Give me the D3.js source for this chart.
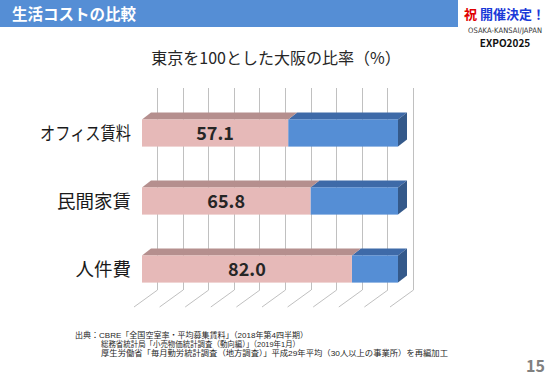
<!DOCTYPE html>
<html>
<meta charset="utf-8">
<style>
  body { margin: 0; background: #fff; }
  svg { width: 550px; height: 381px; display: block; font-family: "Noto Sans CJK JP", "Noto Sans", sans-serif; }
  .grid line { stroke: #c0c0c0; stroke-width: 1; shape-rendering: crispEdges; }
  .floor line { stroke: #c0c0c0; stroke-width: 1; }
</style>
<body>
  <svg></svg>
</body>

<script src="https://cdnjs.cloudflare.com/ajax/libs/d3/7.8.5/d3.min.js"></script>

<script>

var categories = ["オフィス賃料", "民間家賃", "人件費"];
var osaka = [57.1, 65.8, 82.0];
var tokyo = 100;
var ticks = [0, 10, 20, 30, 40, 50, 60, 70, 80, 90, 100];

var svg = d3.select("svg");

// header band
svg.append("rect").attr("x", 0).attr("y", 0).attr("width", 458).attr("height", 27).attr("fill", "#558ed5");
svg.append("text").attr("x", 12).attr("y", 20).attr("fill", "#fff")
  .attr("font-size", 15.5).attr("font-weight", "bold").text("生活コストの比較");

var badge = svg.append("text").attr("x", 464).attr("y", 19).attr("font-size", 13).attr("font-weight", "bold");
badge.append("tspan").attr("fill", "#e00000").text("祝 ");
badge.append("tspan").attr("fill", "#1a3ad8").text("開催決定！");
svg.append("text").attr("x", 505).attr("y", 33).attr("text-anchor", "middle").attr("font-size", 7.5)
  .attr("font-family", "Liberation Sans Narrow, DejaVu Sans Condensed, sans-serif").attr("fill", "#333")
  .attr("textLength", 74).text("OSAKA-KANSAI/JAPAN");
svg.append("text").attr("x", 505).attr("y", 47).attr("text-anchor", "middle").attr("font-size", 10)
  .attr("font-weight", "bold").attr("fill", "#111").text("EXPO2025");

// chart title
svg.append("text").attr("x", 276).attr("y", 64).attr("text-anchor", "middle").attr("font-size", 16)
  .attr("fill", "#262626").text("東京を100とした大阪の比率（%）");

// scales
var x = d3.scaleLinear().domain([0, 100]).range([142, 398]);
var y = d3.scaleBand().domain(categories).range([99, 303]).paddingInner(0.6).paddingOuter(0.3);

// 3d depth vectors
var wallDx = 15, floorDx = -8, depthDy = 17 / 23;
var barDx = 9, barDy = -7;
var wallTop = 88, wallBottom = 290;

var grid = svg.append("g").attr("class", "grid");
grid.selectAll("line").data(ticks).enter().append("line")
  .attr("x1", function(d) { return Math.round(x(d) + wallDx) + 0.5; })
  .attr("x2", function(d) { return Math.round(x(d) + wallDx) + 0.5; })
  .attr("y1", wallTop).attr("y2", wallBottom);

var floor = svg.append("g").attr("class", "floor");
floor.selectAll("line").data(ticks).enter().append("line")
  .attr("x1", function(d) { return x(d) + wallDx + 0.5; })
  .attr("y1", wallBottom)
  .attr("x2", function(d) { return x(d) + floorDx; })
  .attr("y2", wallBottom + (wallDx - floorDx) * depthDy);

// bars
var rows = categories.map(function(c, i) { return {cat: c, v: osaka[i]}; });
var bars = svg.append("g").selectAll("g").data(rows).enter().append("g");

function topFace(x0, x1, y0) {
  return [[x0, y0], [x1, y0], [x1 + barDx, y0 + barDy], [x0 + barDx, y0 + barDy]];
}
var line = d3.line();

// blue (Tokyo remainder)
bars.append("path").attr("fill", "#3e6aa8")
  .attr("d", function(d) { return line(topFace(x(d.v), x(tokyo), y(d.cat))) + "Z"; });
bars.append("path").attr("fill", "#34598a")
  .attr("d", function(d) {
    var x1 = x(tokyo), y0 = y(d.cat), y1 = y0 + y.bandwidth();
    return line([[x1, y0], [x1 + barDx, y0 + barDy], [x1 + barDx, y1 + barDy], [x1, y1]]) + "Z";
  });
bars.append("rect").attr("fill", "#558ed5")
  .attr("x", function(d) { return x(d.v); })
  .attr("y", function(d) { return y(d.cat); })
  .attr("width", function(d) { return x(tokyo) - x(d.v); })
  .attr("height", y.bandwidth());

// pink (Osaka)
bars.append("path").attr("fill", "#b58f8e")
  .attr("d", function(d) { return line(topFace(x(0), x(d.v), y(d.cat))) + "Z"; });
bars.append("rect").attr("fill", "#e6b9b8")
  .attr("x", x(0))
  .attr("y", function(d) { return y(d.cat); })
  .attr("width", function(d) { return x(d.v) - x(0); })
  .attr("height", y.bandwidth());

bars.append("text")
  .attr("x", function(d) { return (x(0) + x(d.v)) / 2; })
  .attr("y", function(d) { return y(d.cat) + y.bandwidth() / 2 + 6.5; })
  .attr("text-anchor", "middle").attr("font-size", 18).attr("font-weight", "bold")
  .attr("fill", "#262626")
  .text(function(d) { return d.v.toFixed(1); });

// category labels; squeeze the long katakana one to the slide's width
bars.append("text")
  .attr("x", 131)
  .attr("y", function(d) { return y(d.cat) + y.bandwidth() / 2 + 6.5; })
  .attr("text-anchor", "end").attr("font-size", 18.5).attr("fill", "#1a1a1a")
  .text(function(d) { return d.cat; })
  .each(function() {
    if (this.getComputedTextLength() > 92) {
      d3.select(this).attr("textLength", 91).attr("lengthAdjust", "spacingAndGlyphs");
    }
  });

// source notes (one text block, three lines)
var notes = [
  "出典：CBRE「全国空室率・平均募集賃料」（2018年第4四半期）",
  "総務省統計局「小売物価統計調査（動向編）」（2019年1月）",
  "厚生労働省「毎月勤労統計調査（地方調査）」平成29年平均（30人以上の事業所）を再編加工"
];
var noteX = [75, 101, 101];
var noteW = [233, 199, 347];
svg.append("text").attr("font-size", 7.8).attr("fill", "#262626")
  .attr("font-family", "Liberation Sans, Noto Sans CJK JP, sans-serif")
  .selectAll("tspan").data(notes).enter().append("tspan")
  .attr("x", function(d, i) { return noteX[i]; })
  .attr("y", function(d, i) { return 338 + i * 9; })
  .attr("textLength", function(d, i) { return noteW[i]; })
  .attr("lengthAdjust", "spacingAndGlyphs")
  .text(function(d) { return d; });

svg.append("text").attr("x", 545).attr("y", 372).attr("text-anchor", "end")
  .attr("font-size", 16).attr("font-weight", "bold").attr("fill", "#808080").text("15");

</script>
</html>
